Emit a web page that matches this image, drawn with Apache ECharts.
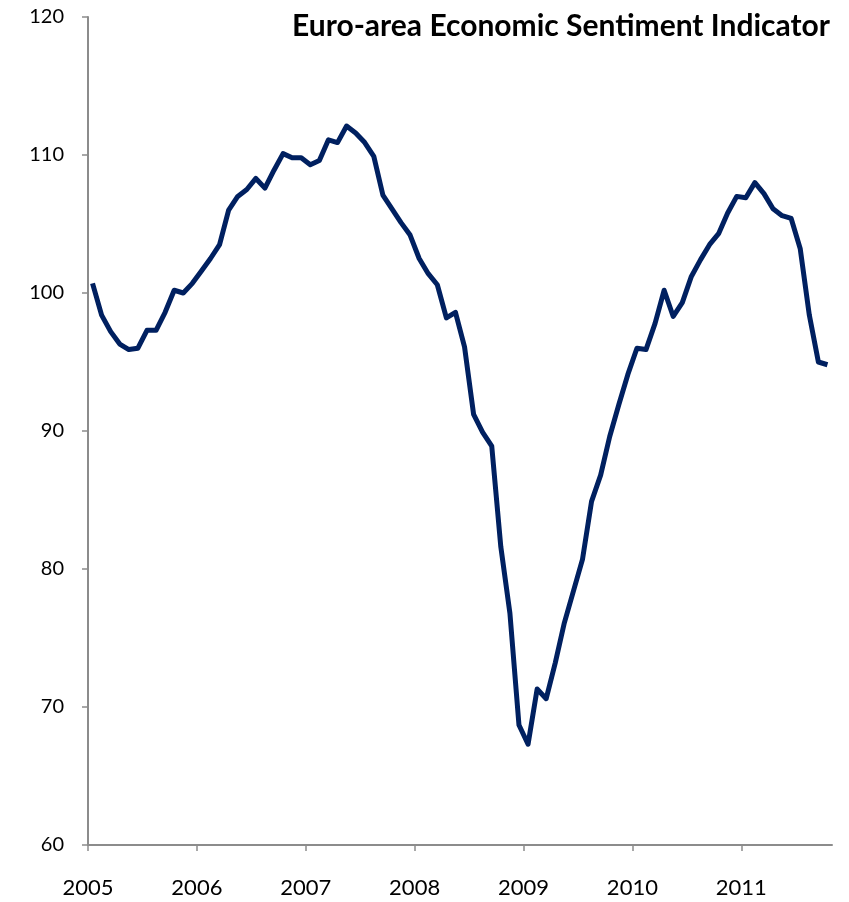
<!DOCTYPE html>
<html>
<head>
<meta charset="utf-8">
<title>Euro-area Economic Sentiment Indicator</title>
<script src="https://cdn.jsdelivr.net/npm/echarts@6/dist/echarts.min.js"></script>
<style>
  html, body { margin: 0; padding: 0; background: #fff; }
  #chart { width: 849px; height: 902px; }
</style>
</head>
<body>
<div id="chart"></div>
<script>
// Monthly index readings, January 2005 to October 2011
const startYear = 2005;
const esi2005 = [100.7, 98.4, 97.2, 96.3, 95.9, 96.0, 97.3, 97.3, 98.6, 100.2, 100.0, 100.7];
const esi2006 = [101.6, 102.5, 103.5, 106.0, 107.0, 107.5, 108.3, 107.6, 108.9, 110.1, 109.8, 109.8];
const esi2007 = [109.3, 109.6, 111.1, 110.9, 112.1, 111.6, 110.9, 109.9, 107.1, 106.1, 105.1, 104.2];
const esi2008 = [102.5, 101.4, 100.6, 98.2, 98.6, 96.1, 91.2, 89.9, 88.9, 81.6, 76.8, 68.7];
const esi2009 = [67.3, 71.3, 70.6, 73.2, 76.1, 78.4, 80.7, 84.9, 86.8, 89.6, 91.9, 94.1];
const esi2010 = [96.0, 95.9, 97.8, 100.2, 98.3, 99.3, 101.2, 102.4, 103.5, 104.3, 105.8, 107.0];
const esi2011 = [106.9, 108.0, 107.2, 106.1, 105.6, 105.4, 103.2, 98.4, 95.0, 94.8];

const yearTicks = [2005, 2006, 2007, 2008, 2009, 2010, 2011];
const yTicks = [60, 70, 80, 90, 100, 110, 120];

// Place each monthly value at mid-month on a continuous year scale
const yearly = [esi2005, esi2006, esi2007, esi2008, esi2009, esi2010, esi2011];
const points = [];
yearly.forEach((vals, yi) => {
  vals.forEach((v, m) => {
    points.push([startYear + yi + (m + 0.5) / 12, v]);
  });
});

const axisGray = '#8c8c8c';
const fontFamily = 'Lato, "Open Sans", sans-serif';

const chart = echarts.init(document.getElementById('chart'), null, { renderer: 'canvas' });
chart.setOption({
  animation: false,
  backgroundColor: '#ffffff',
  title: {
    text: 'Euro-area Economic Sentiment Indicator',
    right: 14,
    top: 6,
    textStyle: { fontFamily: fontFamily, fontWeight: 'bold', fontSize: 30, color: '#000' }
  },
  grid: { left: 88, right: 17, top: 17, bottom: 57, containLabel: false },
  xAxis: {
    type: 'value',
    min: 2005,
    max: 2011 + 10 / 12,
    interval: 1,
    splitLine: { show: false },
    axisLine: { show: true, onZero: false, lineStyle: { color: axisGray, width: 2 } },
    axisTick: { show: true, length: 6, customValues: yearTicks, lineStyle: { color: axisGray, width: 1.5 } },
    axisLabel: {
      customValues: yearTicks,
      margin: 32,
      fontFamily: fontFamily,
      fontSize: 22,
      color: '#000',
      formatter: v => String(Math.round(v))
    }
  },
  yAxis: {
    type: 'value',
    min: yTicks[0],
    max: yTicks[yTicks.length - 1],
    interval: 10,
    splitLine: { show: false },
    axisLine: { show: true, lineStyle: { color: axisGray, width: 2 } },
    axisTick: { show: true, inside: false, length: 6, lineStyle: { color: axisGray, width: 1.5 } },
    axisLabel: { margin: 24, fontFamily: fontFamily, fontSize: 20, color: '#000' }
  },
  series: [{
    type: 'line',
    data: points,
    showSymbol: false,
    symbol: 'none',
    lineStyle: { color: '#002060', width: 5, join: 'round' },
    itemStyle: { color: '#002060' }
  }]
});
</script>
</body>
</html>
